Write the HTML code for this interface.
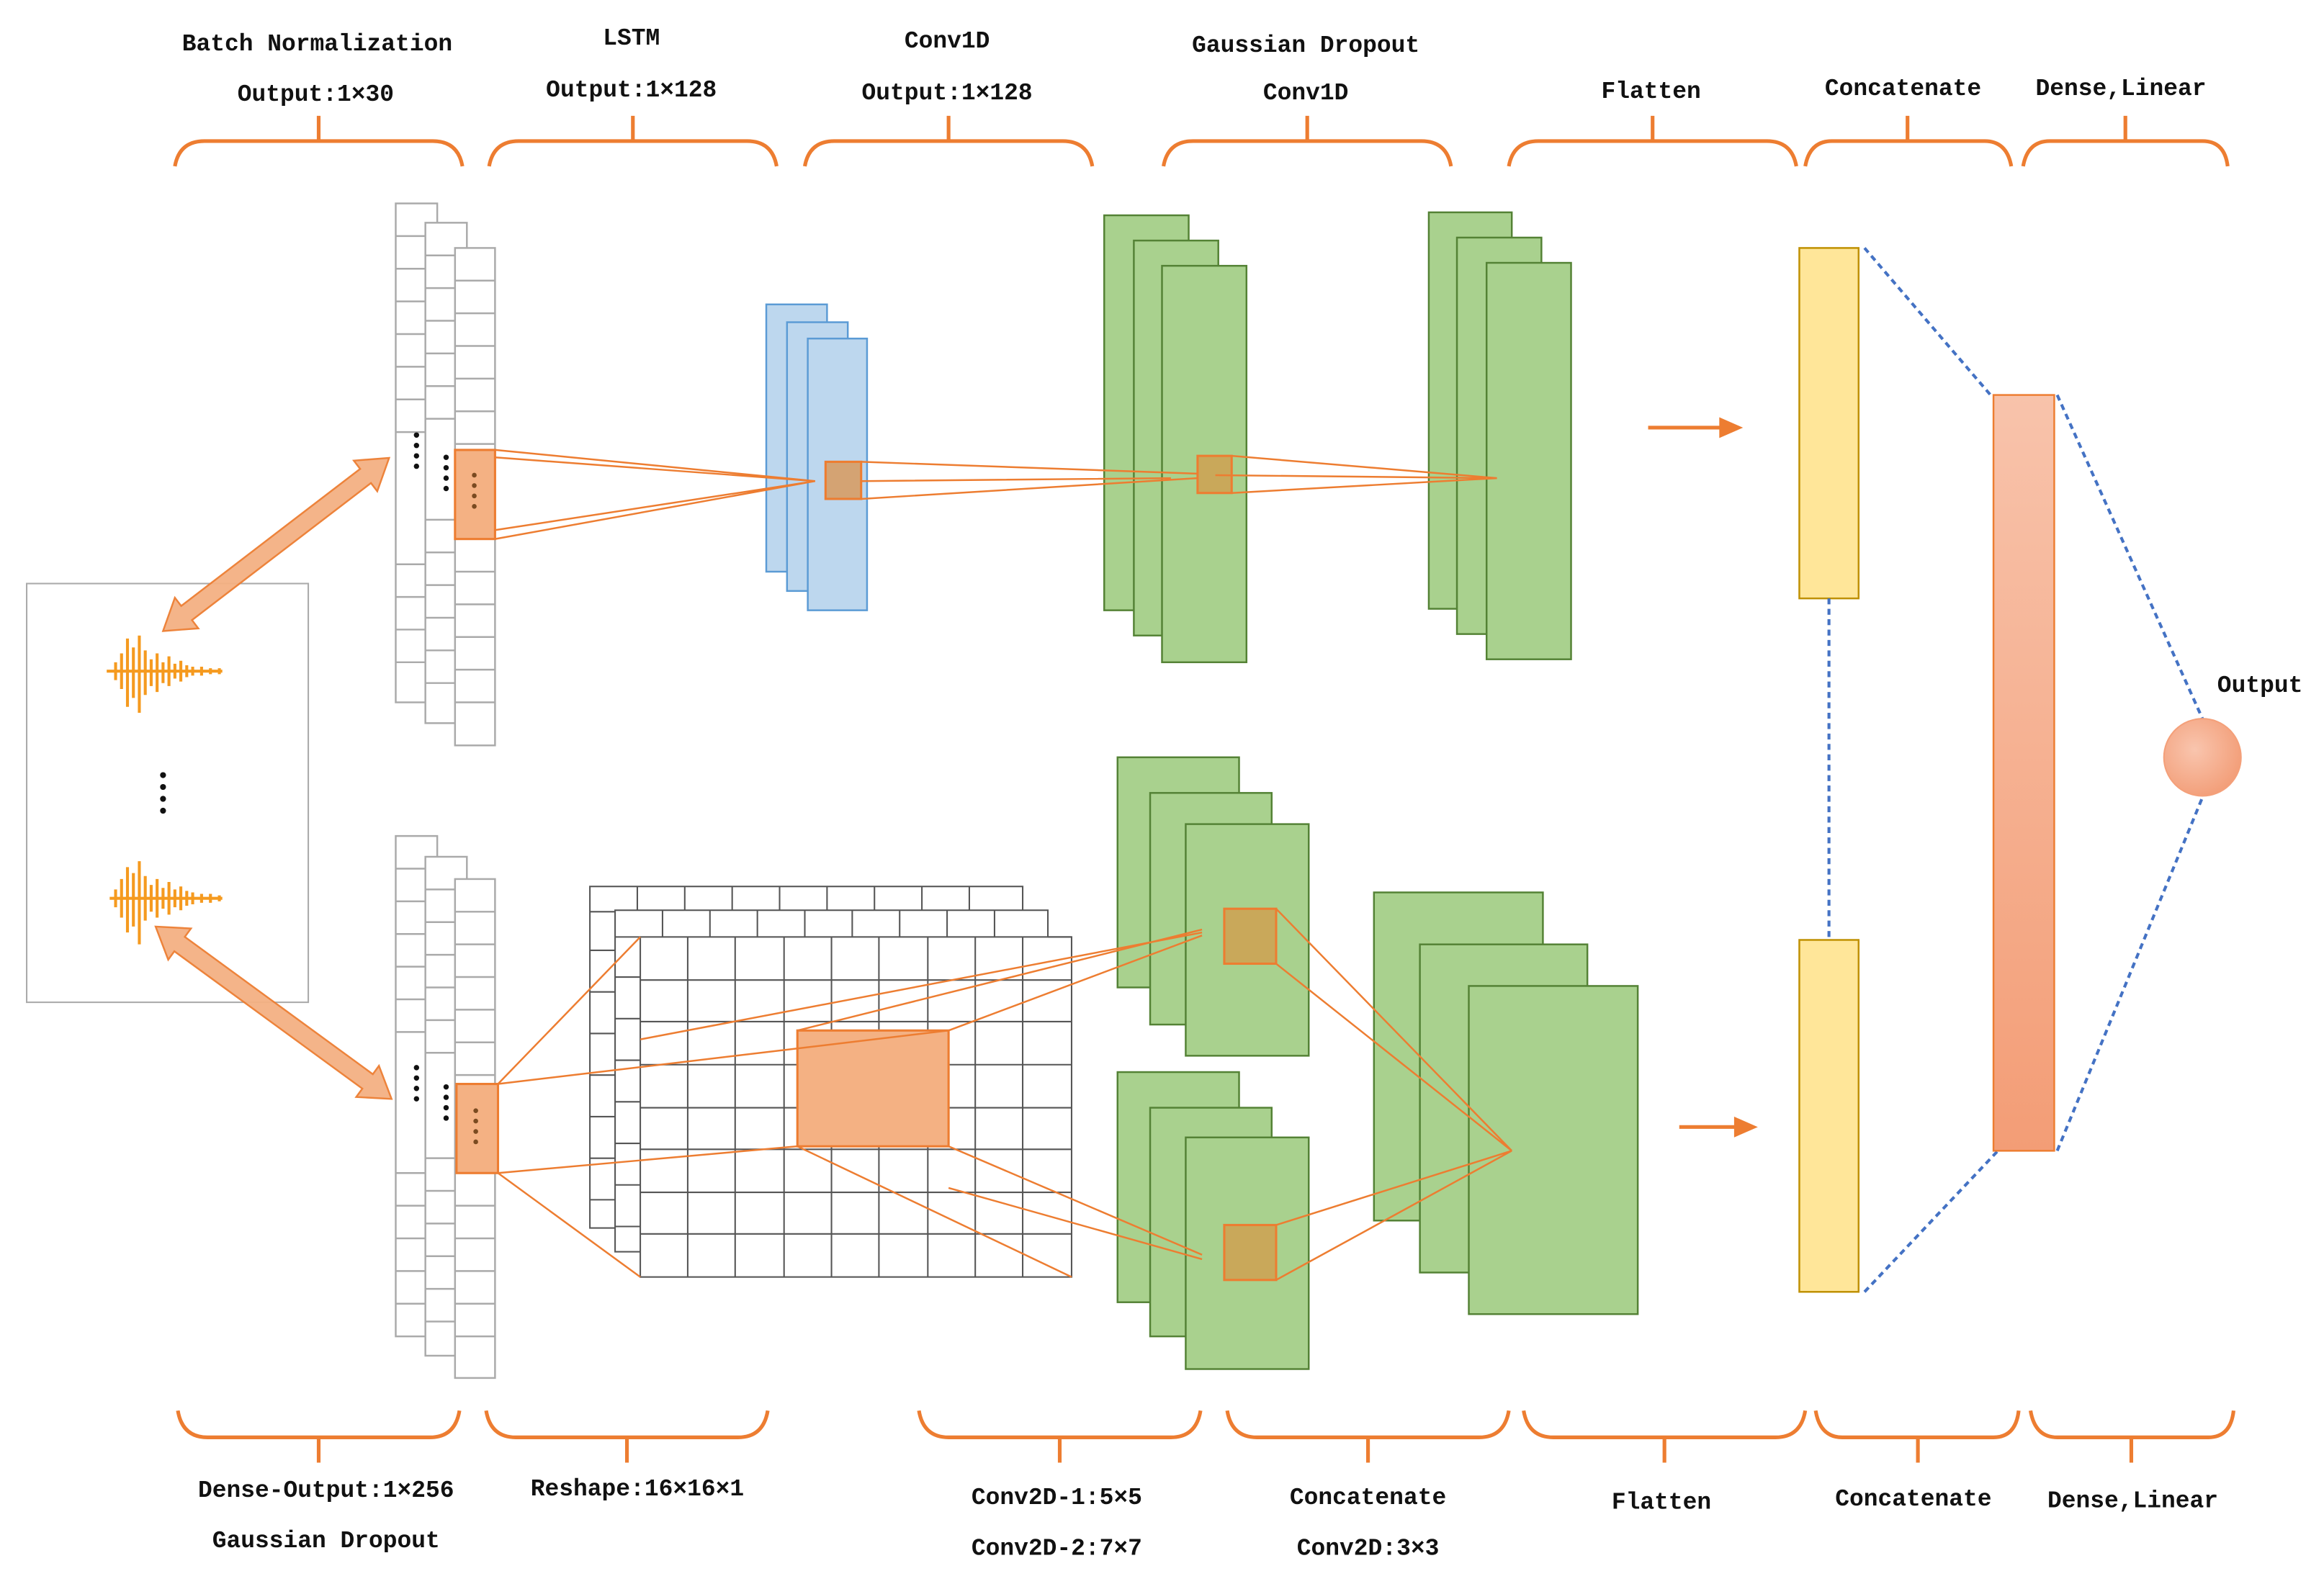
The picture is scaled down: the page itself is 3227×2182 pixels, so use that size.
<!DOCTYPE html>
<html><head><meta charset="utf-8"><style>
html,body{margin:0;padding:0;background:#fff;}
svg{display:block;}
text{font-family:"Liberation Mono","DejaVu Sans Mono",monospace;font-weight:bold;font-size:16px;fill:#111;}
</style></head><body>
<svg width="3227" height="2182" viewBox="0 0 1568 1058" preserveAspectRatio="none" xmlns="http://www.w3.org/2000/svg">
<defs>
<linearGradient id="sal" x1="0" y1="0" x2="0" y2="1"><stop offset="0" stop-color="#f8c3ab"/><stop offset="1" stop-color="#f39d76"/></linearGradient>
<radialGradient id="cir" cx="0.4" cy="0.4" r="0.7"><stop offset="0" stop-color="#f9c5ae"/><stop offset="1" stop-color="#f29a73"/></radialGradient>
<g id="tb"><path d="M0,112 Q3,95 20,95 L174,95 Q191,95 194,112 M97,95 L97,78" fill="none" stroke="#ed7d31" stroke-width="2.5"/></g>
<g id="bb"><path d="M0,950 Q3,968 20,968 L170,968 Q187,968 190,950 M95,968 L95,985" fill="none" stroke="#ed7d31" stroke-width="2.5"/></g>
</defs>
<rect width="1568" height="1058" fill="#fff"/>
<use href="#tb" x="118"/><use href="#tb" x="330"/><use href="#tb" x="543"/><use href="#tb" x="785"/><use href="#tb" x="1018"/>
<path d="M1218,112 Q1221,95 1236,95 L1339,95 Q1354,95 1357,112 M1287,95 L1287,78" fill="none" stroke="#ed7d31" stroke-width="2.5"/>
<path d="M1365,112 Q1368,95 1383,95 L1486,95 Q1501,95 1503,112 M1434,95 L1434,78" fill="none" stroke="#ed7d31" stroke-width="2.5"/>
<use href="#bb" x="120"/><use href="#bb" x="328"/><use href="#bb" x="620"/><use href="#bb" x="828"/><use href="#bb" x="1028"/>
<path d="M1225,950 Q1228,968 1243,968 L1345,968 Q1360,968 1362,950 M1294,968 L1294,985" fill="none" stroke="#ed7d31" stroke-width="2.5"/>
<path d="M1370,950 Q1373,968 1388,968 L1490,968 Q1505,968 1507,950 M1438,968 L1438,985" fill="none" stroke="#ed7d31" stroke-width="2.5"/>
<g text-anchor="middle">
<text x="214" y="34">Batch Normalization</text><text x="213" y="68">Output:1×30</text>
<text x="426" y="30">LSTM</text><text x="426" y="65">Output:1×128</text>
<text x="639" y="32">Conv1D</text><text x="639" y="67">Output:1×128</text>
<text x="881" y="35">Gaussian Dropout</text><text x="881" y="67">Conv1D</text>
<text x="1114" y="66">Flatten</text>
<text x="1284" y="64">Concatenate</text>
<text x="1431" y="64">Dense,Linear</text>
<text x="220" y="1008">Dense-Output:1×256</text><text x="220" y="1042">Gaussian Dropout</text>
<text x="430" y="1007">Reshape:16×16×1</text>
<text x="713" y="1013">Conv2D-1:5×5</text><text x="713" y="1047">Conv2D-2:7×7</text>
<text x="923" y="1013">Concatenate</text><text x="923" y="1047">Conv2D:3×3</text>
<text x="1121" y="1016">Flatten</text>
<text x="1291" y="1014">Concatenate</text>
<text x="1439" y="1015">Dense,Linear</text>
</g>
<text x="1496" y="466">Output</text>
<rect x="18" y="393" width="190" height="282" fill="#fff" stroke="#aaa" stroke-width="1"/>
<g stroke="#f59a1f" stroke-width="2">
<path d="M72,452 L150,452"/>
<path d="M78,446v12M82,440v24M86,430v46M90,436v34M94,428v52M98,438v30M102,444v18M106,440v26M110,446v14M114,442v20M118,447v10M122,445v14M126,448v8M130,449v6M136,449v6M142,450v4M148,450v4"/>
<path d="M74,605 L150,605"/>
<path d="M78,599v12M82,592v26M86,584v44M90,588v36M94,580v56M98,590v30M102,596v18M106,592v26M110,598v14M114,594v22M118,599v12M122,597v16M126,600v10M130,601v8M136,602v6M142,602v6M148,603v4"/>
</g>
<g fill="#111"><circle cx="110" cy="522" r="2"/><circle cx="110" cy="530" r="2"/><circle cx="110" cy="538" r="2"/><circle cx="110" cy="546" r="2"/></g>
<!-- column stacks (each rect then its lines) -->
<g fill="#fff" stroke="#aaa" stroke-width="1.2">
<rect x="267" y="137" width="28" height="336"/>
<path d="M267,159h28M267,181h28M267,203h28M267,225h28M267,247h28M267,269h28M267,291h28M267,380h28M267,402h28M267,424h28M267,446h28"/>
<rect x="287" y="150" width="28" height="337"/>
<path d="M287,172h28M287,194h28M287,216h28M287,238h28M287,260h28M287,282h28M287,350h28M287,372h28M287,394h28M287,416h28M287,438h28M287,460h28"/>
<rect x="307" y="167" width="27" height="335"/>
<path d="M307,189h27M307,211h27M307,233h27M307,255h27M307,277h27M307,299h27M307,385h27M307,407h27M307,429h27M307,451h27M307,473h27"/>
<rect x="267" y="563" width="28" height="337"/>
<path d="M267,585h28M267,607h28M267,629h28M267,651h28M267,673h28M267,695h28M267,790h28M267,812h28M267,834h28M267,856h28M267,878h28"/>
<rect x="287" y="577" width="28" height="336"/>
<path d="M287,599h28M287,621h28M287,643h28M287,665h28M287,687h28M287,709h28M287,780h28M287,802h28M287,824h28M287,846h28M287,868h28M287,890h28"/>
<rect x="307" y="592" width="27" height="336"/>
<path d="M307,614h27M307,636h27M307,658h27M307,680h27M307,702h27M307,724h27M307,812h27M307,834h27M307,856h27M307,878h27M307,900h27"/>
</g>
<rect x="307" y="303" width="27" height="60" fill="#f4b183" stroke="#ed7d31" stroke-width="1.5"/>
<rect x="308" y="730" width="28" height="60" fill="#f4b183" stroke="#ed7d31" stroke-width="1.5"/>
<g fill="#111">
<circle cx="281" cy="293" r="1.8"/><circle cx="281" cy="300" r="1.8"/><circle cx="281" cy="307" r="1.8"/><circle cx="281" cy="314" r="1.8"/>
<circle cx="301" cy="308" r="1.8"/><circle cx="301" cy="315" r="1.8"/><circle cx="301" cy="322" r="1.8"/><circle cx="301" cy="329" r="1.8"/>
<circle cx="281" cy="719" r="1.8"/><circle cx="281" cy="726" r="1.8"/><circle cx="281" cy="733" r="1.8"/><circle cx="281" cy="740" r="1.8"/>
<circle cx="301" cy="732" r="1.8"/><circle cx="301" cy="739" r="1.8"/><circle cx="301" cy="746" r="1.8"/><circle cx="301" cy="753" r="1.8"/>
</g>
<g fill="#7a4a20"><circle cx="320" cy="320" r="1.6"/><circle cx="320" cy="327" r="1.6"/><circle cx="320" cy="334" r="1.6"/><circle cx="320" cy="341" r="1.6"/>
<circle cx="321" cy="748" r="1.6"/><circle cx="321" cy="755" r="1.6"/><circle cx="321" cy="762" r="1.6"/><circle cx="321" cy="769" r="1.6"/></g>
<!-- big double arrows -->
<g fill="#f4b183" stroke="#ed7d31" stroke-width="1.2" opacity="0.95">
<polygon transform="translate(110,425) rotate(-37.4)" points="0,0 20,-13 20,-6 172,-6 172,-13 192,0 172,13 172,6 20,6 20,13"/>
<polygon transform="translate(105,624) rotate(36.1)" points="0,0 20,-13 20,-6 177,-6 177,-13 197,0 177,13 177,6 20,6 20,13"/>
</g>
<g fill="#bdd7ee" stroke="#5b9bd5" stroke-width="1.2">
<rect x="517" y="205" width="41" height="180"/><rect x="531" y="217" width="41" height="181"/><rect x="545" y="228" width="40" height="183"/>
</g>
<g fill="#a9d18e" stroke="#548235" stroke-width="1.2">
<rect x="745" y="145" width="57" height="266"/><rect x="765" y="162" width="57" height="266"/><rect x="784" y="179" width="57" height="267"/>
<rect x="964" y="143" width="56" height="267"/><rect x="983" y="160" width="57" height="267"/><rect x="1003" y="177" width="57" height="267"/>
</g>
<rect x="557" y="311" width="24" height="25" fill="#d4a373" stroke="#ed7d31" stroke-width="1.5"/>
<rect x="808" y="307" width="23" height="25" fill="#c9a85a" stroke="#ed7d31" stroke-width="1.5"/>
<g stroke="#ed7d31" stroke-width="1.2" fill="none">
<path d="M334,303 L550,324 M334,308 L550,324 M334,363 L550,324 M334,357 L550,324"/>
<path d="M581,311 L808,319 M581,336 L808,322 M581,324 L790,322"/>
<path d="M831,307 L1010,322 M831,332 L1010,322 M820,320 L1010,322"/>
</g>
<g fill="#fff" stroke="#555" stroke-width="1">
<rect x="398" y="597" width="292" height="230"/><rect x="415" y="613" width="292" height="230"/><rect x="432" y="631" width="291" height="229"/>
</g>
<g stroke="#555" stroke-width="1">
<path d="M398,614h17M398,640h17M398,668h17M398,696h17M398,724h17M398,752h17M398,780h17M398,808h17"/>
<path d="M430,597v16M462,597v16M494,597v16M526,597v16M558,597v16M590,597v16M622,597v16M654,597v16M415,631h17M415,658h17M415,686h17M415,714h17M415,742h17M415,770h17M415,798h17M415,826h17"/>
<path d="M447,613v18M479,613v18M511,613v18M543,613v18M575,613v18M607,613v18M639,613v18M671,613v18M707,631h16"/>
<path d="M464,631v229M496,631v229M529,631v229M561,631v229M593,631v229M626,631v229M658,631v229M690,631v229M432,660h291M432,688h291M432,717h291M432,746h291M432,774h291M432,803h291M432,831h291"/>
</g>
<rect x="538" y="694" width="102" height="78" fill="#f4b183" stroke="#ed7d31" stroke-width="1.5"/>
<g fill="#a9d18e" stroke="#548235" stroke-width="1.2">
<rect x="754" y="510" width="82" height="155"/><rect x="776" y="534" width="82" height="156"/><rect x="800" y="555" width="83" height="156"/>
<rect x="754" y="722" width="82" height="155"/><rect x="776" y="746" width="82" height="154"/><rect x="800" y="766" width="83" height="156"/>
<rect x="927" y="601" width="114" height="221"/><rect x="958" y="636" width="113" height="221"/><rect x="991" y="664" width="114" height="221"/>
</g>
<rect x="826" y="612" width="35" height="37" fill="#c9a85a" stroke="#ed7d31" stroke-width="1.5"/>
<rect x="826" y="825" width="35" height="37" fill="#c9a85a" stroke="#ed7d31" stroke-width="1.5"/>
<g stroke="#ed7d31" stroke-width="1.2" fill="none">
<path d="M336,730 L432,631 M336,730 L640,694 M336,790 L432,860 M336,790 L538,772"/>
<path d="M538,694 L811,626 M640,694 L811,630 M432,700 L811,628"/>
<path d="M640,772 L811,845 M538,772 L723,860 M640,800 L811,848"/>
<path d="M861,612 L1020,775 M861,649 L1020,775 M861,825 L1020,775 M861,862 L1020,775"/>
</g>
<g stroke="#ed7d31" stroke-width="2.5" fill="#ed7d31">
<path d="M1112,288 L1162,288"/><polygon points="1176,288 1160,281 1160,295" stroke="none"/>
<path d="M1133,759 L1172,759"/><polygon points="1186,759 1170,752 1170,766" stroke="none"/>
</g>
<rect x="1214" y="167" width="40" height="236" fill="#ffe699" stroke="#bf9000" stroke-width="1.2"/>
<rect x="1214" y="633" width="40" height="237" fill="#ffe699" stroke="#bf9000" stroke-width="1.2"/>
<g stroke="#4472c4" stroke-width="2" stroke-dasharray="4,3" fill="none">
<path d="M1234,403 L1234,633 M1258,167 L1343,266 M1258,870 L1348,775 M1388,266 L1486,484 M1388,775 L1486,537"/>
</g>
<rect x="1345" y="266" width="41" height="509" fill="url(#sal)" stroke="#ed7d31" stroke-width="1.2"/>
<circle cx="1486" cy="510" r="26" fill="url(#cir)" stroke="#f4a07a" stroke-width="1"/>
</svg>
</body></html>
